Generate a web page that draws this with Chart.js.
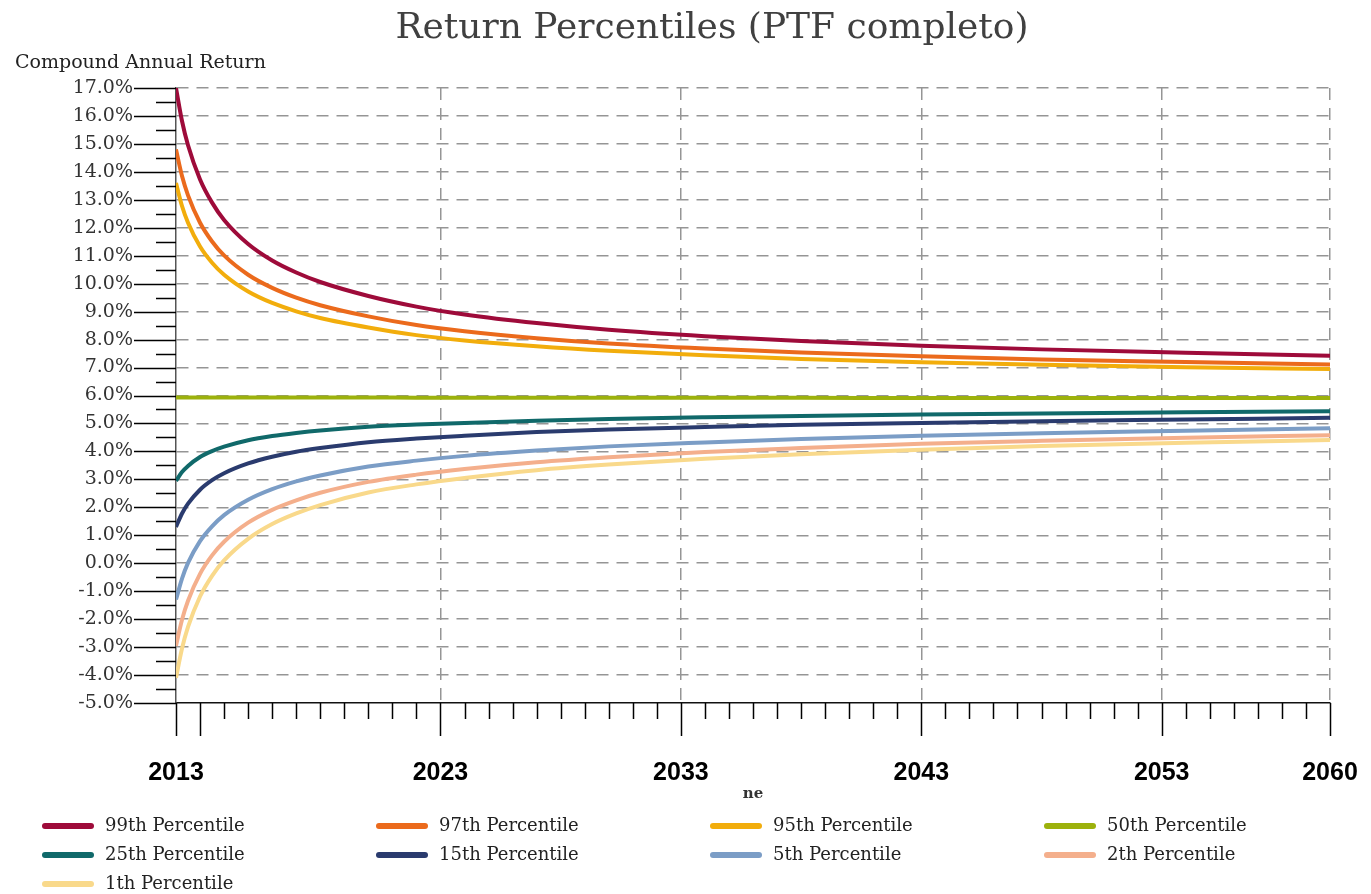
<!DOCTYPE html>
<html><head><meta charset="utf-8">
<script src="https://cdn.jsdelivr.net/npm/chart.js@4"></script>
<style>html,body{margin:0;padding:0;background:#fff}</style>
</head><body>
<canvas id="c" width="1371" height="894"></canvas>
<script>
// x = horizon index along the category axis (0 = first point, 48 = 2060)
const horizon = [0,0.25,0.5,1,1.5,2,3,4,5,6,8,10,12,15,18,22,26,31,36,42,48];
const tickPositions = [0,11,21,31,41,48];
const tickLabels = ['2013','2023','2033','2043','2053','2060'];
const longTicks = [0,1,11,21,31,41,48];

const p99 = [17.00,15.82,14.95,13.73,12.90,12.28,11.42,10.83,10.40,10.06,9.56,9.18,8.90,8.59,8.35,8.12,7.95,7.78,7.65,7.53,7.42];
const p97 = [14.80,13.85,13.16,12.18,11.51,11.01,10.32,9.85,9.50,9.23,8.83,8.52,8.30,8.05,7.86,7.68,7.54,7.40,7.29,7.20,7.11];
const p95 = [13.60,12.78,12.18,11.33,10.75,10.32,9.72,9.31,9.01,8.77,8.43,8.16,7.97,7.76,7.60,7.44,7.31,7.19,7.10,7.01,6.95];
const p50 = [5.93,5.93,5.93,5.93,5.93,5.93,5.93,5.93,5.93,5.93,5.93,5.92,5.92,5.92,5.92,5.92,5.92,5.91,5.91,5.91,5.91];
const p25 = [2.95,3.26,3.48,3.80,4.01,4.17,4.40,4.55,4.66,4.75,4.88,4.96,5.02,5.10,5.16,5.22,5.27,5.32,5.36,5.40,5.44];
const p15 = [1.30,1.78,2.13,2.63,2.97,3.22,3.57,3.81,3.99,4.12,4.33,4.46,4.56,4.69,4.78,4.87,4.95,5.02,5.08,5.14,5.20];
const p5  = [-1.30,-0.55,0.01,0.79,1.32,1.72,2.27,2.65,2.93,3.14,3.46,3.67,3.84,4.03,4.18,4.32,4.44,4.56,4.65,4.74,4.83];
const p2  = [-2.95,-2.02,-1.34,-0.38,0.28,0.77,1.45,1.91,2.25,2.52,2.91,3.17,3.37,3.61,3.79,3.98,4.12,4.27,4.38,4.49,4.58];
const p1  = [-4.10,-3.05,-2.28,-1.19,-0.45,0.10,0.87,1.40,1.78,2.08,2.53,2.82,3.05,3.33,3.53,3.74,3.90,4.06,4.19,4.31,4.41];

const seriesNames = ['99th Percentile','97th Percentile','95th Percentile','50th Percentile',
                     '25th Percentile','15th Percentile','5th Percentile','2th Percentile','1th Percentile'];
const seriesValues = [p99,p97,p95,p50,p25,p15,p5,p2,p1];
const seriesColors = ['#9E0B3A','#EB6A1C','#F2AD0C','#9CB10C','#10696A','#2A3B6E','#7B9DC6','#F4AF8C','#F9D98B'];

const yTitle = 'Compound Annual Return';
const xTitle = 'ne';
const chartTitle = 'Return Percentiles (PTF completo)';

const datasets = seriesNames.map((name, i) => ({
  label: name,
  data: horizon.map((h, j) => ({x: h, y: seriesValues[i][j]})),
  borderColor: seriesColors[i],
  backgroundColor: seriesColors[i],
  borderWidth: 4,
  pointRadius: 0,
  cubicInterpolationMode: 'monotone',
  fill: false
}));

const serif = 'DejaVu Serif';

const extrasPlugin = {
  id: 'extras',
  beforeDatasetsDraw(chart) {
    const ctx = chart.ctx, xs = chart.scales.x, ys = chart.scales.y;
    const area = chart.chartArea;
    ctx.save();
    ctx.strokeStyle = '#000';
    ctx.lineWidth = 1.5;
    ctx.beginPath();
    for (let i = 0; i <= 48; i++) {
      const x = Math.round(xs.getPixelForValue(i)) + 0.5;
      const len = longTicks.includes(i) ? 33 : 16;
      ctx.moveTo(x, area.bottom);
      ctx.lineTo(x, area.bottom + len);
    }
    for (let v = -5; v <= 17.001; v += 0.5) {
      const y = Math.round(ys.getPixelForValue(v)) + 0.5;
      const len = Math.abs(v - Math.round(v)) < 0.01 ? 42 : 20;
      ctx.moveTo(area.left, y);
      ctx.lineTo(area.left - len, y);
    }
    ctx.stroke();
    ctx.restore();
  },
  afterDraw(chart) {
    const ctx = chart.ctx;
    ctx.save();
    // chart title
    ctx.font = '36px "' + serif + '"';
    ctx.fillStyle = '#404040';
    ctx.textAlign = 'center';
    ctx.textBaseline = 'middle';
    ctx.fillText(chartTitle, 712, 29);
    // y axis title (top-left, horizontal)
    ctx.font = '19px "' + serif + '"';
    ctx.fillStyle = '#222';
    ctx.textAlign = 'left';
    ctx.fillText(yTitle, 15, 63);
    // legend in 4 columns
    const colW = 334, x0 = 42, y0 = 826, rowH = 29;
    ctx.font = '18px "' + serif + '"';
    chart.data.datasets.forEach((ds, i) => {
      const col = i % 4, row = Math.floor(i / 4);
      const x = x0 + col * colW, y = y0 + row * rowH;
      ctx.strokeStyle = ds.borderColor;
      ctx.lineWidth = 6;
      ctx.lineCap = 'round';
      ctx.beginPath();
      ctx.moveTo(x + 3, y);
      ctx.lineTo(x + 49, y);
      ctx.stroke();
      ctx.fillStyle = '#222';
      ctx.fillText(ds.label, x + 63, y);
    });
    ctx.restore();
  }
};

new Chart(document.getElementById('c'), {
  type: 'line',
  data: { datasets },
  plugins: [extrasPlugin],
  options: {
    responsive: false,
    animation: false,
    devicePixelRatio: 1,
    layout: { padding: { left: 53, right: 41, top: 88, bottom: 91 } },
    plugins: {
      legend: { display: false },
      tooltip: { enabled: false },
      title: { display: false }
    },
    scales: {
      x: {
        type: 'linear',
        min: 0, max: 48,
        afterBuildTicks: (s) => { s.ticks = tickPositions.map(v => ({ value: v })); },
        afterFit: (s) => { s.height = 100; },
        ticks: {
          autoSkip: false,
          maxRotation: 0,
          padding: 5,
          color: '#000',
          font: { family: 'Liberation Sans', size: 25, weight: 'bold' },
          callback: (v) => { const k = tickPositions.indexOf(v); return k >= 0 ? tickLabels[k] : ''; }
        },
        grid: {
          drawTicks: true,
          tickLength: 50,
          tickColor: 'rgba(0,0,0,0)',
          color: (c) => (c.tick && c.tick.value === 0) ? 'rgba(0,0,0,0)' : '#959595',
          lineWidth: 1.5
        },
        border: { display: true, color: '#111', width: 1.5, dash: [12, 8] },
        title: {
          display: true,
          text: xTitle,
          color: '#333',
          font: { family: serif, size: 15, weight: 'bold' },
          padding: { top: 0, bottom: 0 }
        }
      },
      y: {
        min: -5, max: 17,
        afterFit: (s) => { s.width = 123; },
        ticks: {
          stepSize: 1,
          padding: 43,
          color: '#333',
          font: { family: serif, size: 19 },
          callback: (v) => v.toFixed(1) + '%'
        },
        grid: {
          drawTicks: false,
          color: (c) => (c.tick && c.tick.value === -5) ? 'rgba(0,0,0,0)' : '#959595',
          lineWidth: 1.5
        },
        border: { display: true, color: '#555', width: 1.5, dash: [12, 8] }
      }
    }
  }
});
</script>
</body></html>
